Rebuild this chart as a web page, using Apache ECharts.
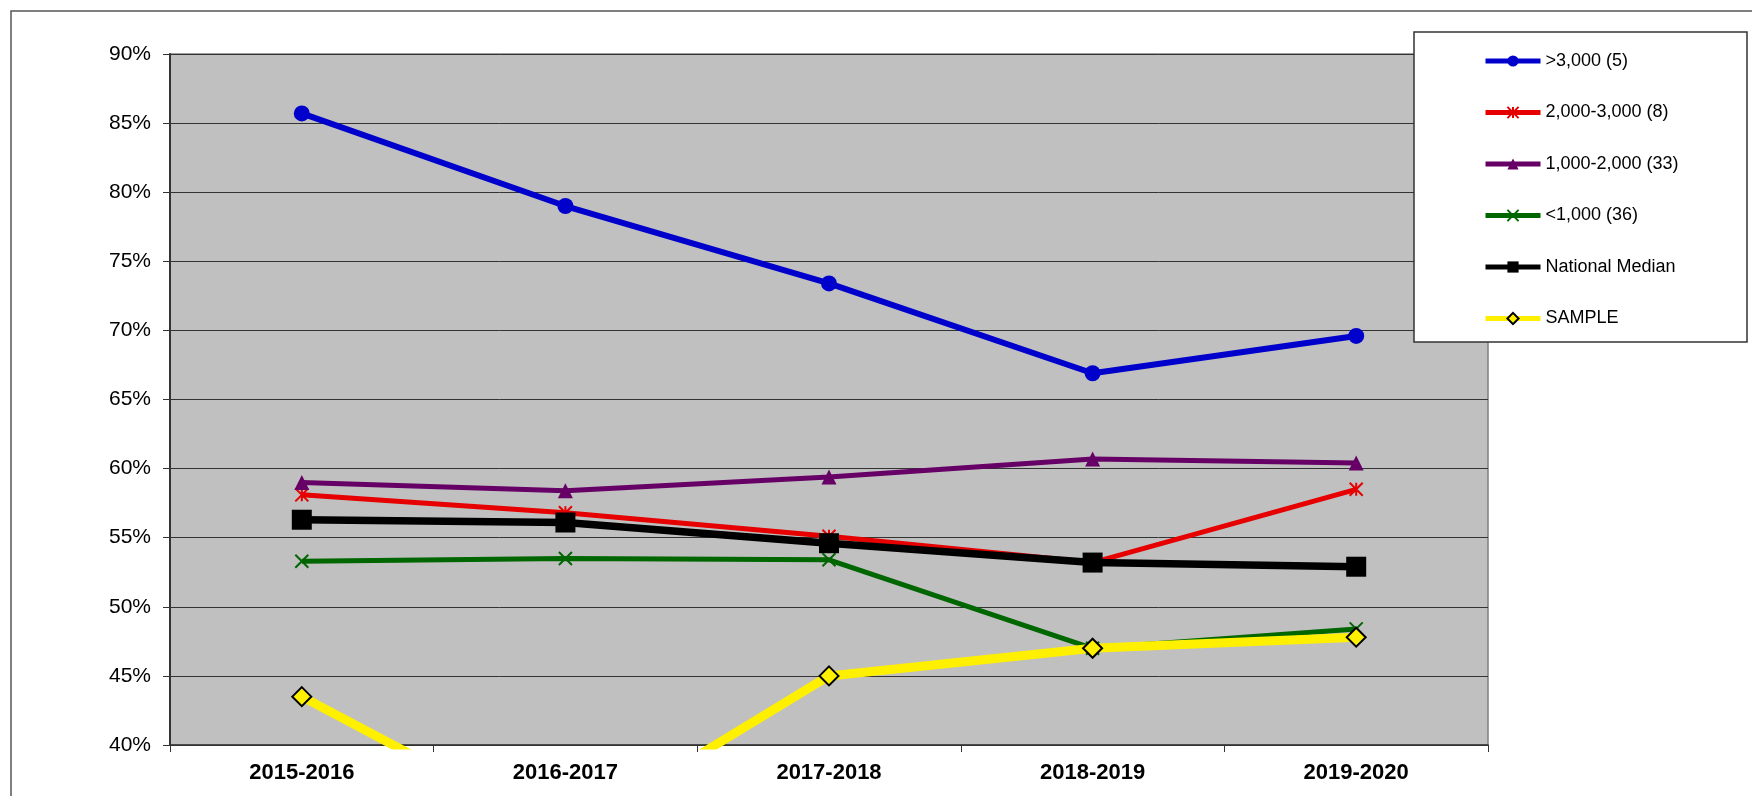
<!DOCTYPE html>
<html>
<head>
<meta charset="utf-8">
<script src="https://cdn.jsdelivr.net/npm/echarts@6/dist/echarts.min.js"></script>
<style>
  html, body { margin: 0; padding: 0; background: #ffffff; }
  #chart { width: 1752px; height: 796px; }
</style>
</head>
<body>
<div id="chart"></div>
<script>
// School years on the category axis
const categories = ['2015-2016', '2016-2017', '2017-2018', '2018-2019', '2019-2020'];

// Percent values per enrollment group
const over3000 = [85.7, 79.0, 73.4, 66.9, 69.6];
const from2000to3000 = [58.1, 56.8, 55.1, 53.2, 58.5];
const from1000to2000 = [59.0, 58.4, 59.4, 60.7, 60.4];
const under1000 = [53.3, 53.5, 53.4, 47.0, 48.4];
const nationalMedian = [56.3, 56.1, 54.6, 53.2, 52.9];
const sample = [43.5, 33.4, 45.0, 47.0, 47.8];

// Y axis range and step (percent)
const yMin = 40, yMax = 90, yStep = 5;

const seriesNames = ['>3,000 (5)', '2,000-3,000 (8)', '1,000-2,000 (33)', '<1,000 (36)', 'National Median', 'SAMPLE'];

const FONT = '"Liberation Sans", Arial, sans-serif';
const STAR = 'path://M0,0L10,10M10,0L0,10M5,0L5,10';
const CROSS = 'path://M0,0L10,10M10,0L0,10';

function lineSeries(name, data, color, width, symbol, size, item) {
  return {
    name: name,
    type: 'line',
    data: data,
    color: color,
    symbol: symbol,
    symbolSize: size,
    showSymbol: true,
    clip: true,
    lineStyle: { color: color, width: width },
    itemStyle: Object.assign({ color: color }, item || {}),
    emphasis: { disabled: true },
    animation: false
  };
}

const chart = echarts.init(document.getElementById('chart'), null, { renderer: 'canvas' });

chart.setOption({
  backgroundColor: '#ffffff',
  animation: false,
  textStyle: { fontFamily: FONT },
  graphic: {
    elements: [
      // outer frame
      { type: 'rect', z: 1, shape: { x: 11, y: 11, width: 1800, height: 900 },
        style: { fill: 'none', stroke: '#555555', lineWidth: 1.5 } },
      // legend box
      { type: 'rect', z: 50, shape: { x: 1414, y: 32, width: 333, height: 310 },
        style: { fill: '#ffffff', stroke: '#333333', lineWidth: 1.5 } }
    ]
  },
  grid: {
    left: 170, right: 264, top: 54, bottom: 51,
    show: true,
    backgroundColor: '#C0C0C0',
    borderColor: '#808080',
    borderWidth: 1.5
  },
  legend: {
    z: 60,
    orient: 'vertical',
    left: 1483,
    top: 52,
    itemWidth: 55,
    itemHeight: 14,
    itemGap: 33.5,
    padding: 0,
    data: seriesNames,
    selectedMode: false,
    lineStyle: { width: 5 },
    textStyle: { fontFamily: FONT, fontSize: 18, color: '#000000' }
  },
  xAxis: {
    type: 'category',
    data: categories,
    boundaryGap: true,
    axisLine: { show: true, lineStyle: { color: '#333333', width: 1.5 } },
    axisTick: { show: true, length: 7, inside: false, lineStyle: { color: '#333333', width: 1 } },
    axisLabel: { margin: 17, fontFamily: FONT, fontSize: 22, fontWeight: 'bold', color: '#000000' },
    splitLine: { show: false }
  },
  yAxis: {
    type: 'value',
    min: yMin,
    max: yMax,
    interval: yStep,
    axisLine: { show: true, lineStyle: { color: '#333333', width: 2 } },
    axisTick: { show: true, length: 7, inside: false, lineStyle: { color: '#333333', width: 1 } },
    axisLabel: { margin: 19, fontFamily: FONT, fontSize: 21, color: '#000000', formatter: '{value}%' },
    splitLine: { show: true, lineStyle: { color: '#333333', width: 1 } }
  },
  series: [
    lineSeries(seriesNames[0], over3000, '#0000CC', 6, 'circle', 16),
    lineSeries(seriesNames[1], from2000to3000, '#E60000', 5, STAR, 13,
      { color: '#E60000', borderColor: '#E60000', borderWidth: 2 }),
    lineSeries(seriesNames[2], from1000to2000, '#660066', 5, 'triangle', 15),
    lineSeries(seriesNames[3], under1000, '#006600', 5, CROSS, 13,
      { color: '#006600', borderColor: '#006600', borderWidth: 2 }),
    lineSeries(seriesNames[4], nationalMedian, '#000000', 7.5, 'rect', 20),
    lineSeries(seriesNames[5], sample, '#FFF000', 9, 'diamond', 19,
      { color: '#FFF000', borderColor: '#000000', borderWidth: 2 })
  ]
});
</script>
</body>
</html>
